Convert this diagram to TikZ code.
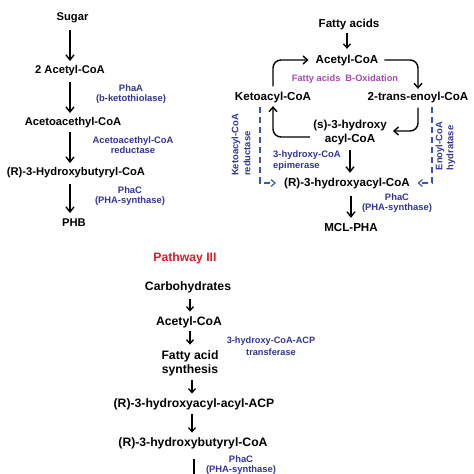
\documentclass[tikz,border=0pt]{standalone}
\usepackage{fontspec}
\setmainfont{Liberation Sans}
\usetikzlibrary{arrows.meta}
\definecolor{lblue}{RGB}{52,52,150}
\definecolor{dblue}{RGB}{60,85,170}
\definecolor{mag}{RGB}{165,75,175}
\definecolor{pred}{RGB}{215,30,40}
\tikzset{
  lt/.style={font=\fontsize{11.2}{13}\selectfont\bfseries, inner sep=1pt, text height=8.2pt, text depth=2.3pt},
  rt/.style={font=\fontsize{11.6}{14}\selectfont\bfseries, inner sep=1pt, text height=8.5pt, text depth=2.4pt},
  rtm/.style={font=\fontsize{11.6}{14}\selectfont\bfseries, inner sep=1pt, align=center},
  bt/.style={font=\fontsize{12.2}{14}\selectfont\bfseries, inner sep=1pt, text height=8.9pt, text depth=2.6pt},
  btm/.style={font=\fontsize{12.2}{14}\selectfont\bfseries, inner sep=1pt, align=center},
  enz/.style={font=\fontsize{9.4}{10}\selectfont\bfseries, text=lblue, inner sep=1pt, align=center},
  blk/.style={line width=1.4pt, -{Straight Barb[length=5pt,width=8pt]}, shorten <=4.5pt, shorten >=3.5pt},
  sblk/.style={line width=1.3pt, -{Straight Barb[length=4pt,width=7pt]}, shorten <=3.5pt, shorten >=3.5pt},
  cyc/.style={line width=1.4pt, rounded corners=8pt, -{Straight Barb[length=4.5pt,width=8pt]}},
  dsh/.style={line width=1.2pt, color=dblue, dash pattern=on 6pt off 4pt, -{Straight Barb[length=4pt,width=7pt]}}
}
\begin{document}
\begin{tikzpicture}[x=1pt,y=-1pt]
\useasboundingbox (0,0) rectangle (474,474);
% ---------- left pathway ----------
\coordinate (lc) at (70,0);
\node[lt] (sugar) at (72.5,18) {Sugar};
\node[lt] (ac2) at (70,71) {2 Acetyl-CoA};
\node[lt] (aca) at (73,123) {Acetoacethyl-CoA};
\node[lt] (hb) at (76,173) {(R)-3-Hydroxybutyryl-CoA};
\node[lt] (phb) at (74,224) {PHB};
\draw[blk, shorten <=6pt] (sugar.south -| lc) -- (ac2.north -| lc);
\draw[blk] (ac2.south -| lc) -- (aca.north -| lc);
\draw[blk, shorten <=2.5pt] (aca.south -| lc) -- (hb.north -| lc);
\draw[blk, shorten >=4.5pt] (hb.south -| lc) -- (phb.north -| lc);
\node[enz] (e1) at (131,94) {PhaA\\(b-ketothiolase)};
\node[enz] (e2) at (133,145) {Acetoacethyl-CoA\\reductase};
\node[enz] (e3) at (130,196.5) {PhaC\\(PHA-synthase)};
% ---------- right pathway ----------
\node[rt] (fa) at (349,24) {Fatty acids};
\node[rt] (acet) at (347,60) {Acetyl-CoA};
\node[rt] (ket) at (273,97) {Ketoacyl-CoA};
\node[rt] (enoyl) at (418,97) {2-trans-enoyl-CoA};
\node[rtm] (shyd) at (350,132) {(s)-3-hydroxy\\acyl-CoA};
\node[rt] (rhyd) at (347,183) {(R)-3-hydroxyacyl-CoA};
\node[rt] (mcl) at (351,228) {MCL-PHA};
\node[font=\fontsize{9.3}{10}\selectfont\bfseries, text=mag, inner sep=1pt] (box) at (345,79) {Fatty acids\hspace{5pt}B-Oxidation};
\draw[sblk, shorten <=2.5pt, shorten >=4.5pt] (acet.north |- fa.south) -- (acet.north);
\draw[cyc, shorten <=4pt, shorten >=6pt] (ket.north) |- (acet.west);
\draw[cyc, shorten <=5pt, shorten >=1.5pt] (acet.east) -| (enoyl.north);
\draw[cyc, shorten <=4pt, shorten >=5pt] (enoyl.south) |- ([yshift=1pt]shyd.east);
\draw[cyc, shorten <=2pt, shorten >=2.5pt] ([yshift=-5pt]shyd.west) -| (ket.south);
\draw[blk] (shyd.south) -- (shyd.south |- rhyd.north);
\draw[blk, shorten <=6pt] (rhyd.south -| mcl) -- (mcl.north);
\draw[dsh, shorten <=3.5pt, shorten >=7pt] ([xshift=-13pt]ket.south) |- (rhyd.west);
\draw[dsh, shorten <=3.5pt, shorten >=6.5pt] ([xshift=14pt]enoyl.south) |- (rhyd.east);
\node[enz, align=left, anchor=west, font=\fontsize{9.4}{11}\selectfont\bfseries] (epi) at (272,160.5) {3-hydroxy-CoA\\epimerase};
\node[enz] (e4) at (397,203) {PhaC\\(PHA-synthase)};
\node[enz, rotate=90, align=left, font=\fontsize{9.4}{12}\selectfont\bfseries] (kr) at (241,145) {Ketoacyl-CoA\\reductase};
\node[enz, rotate=90, align=left, font=\fontsize{9.4}{11}\selectfont\bfseries] (eh) at (445.5,146) {Enoyl-CoA\\hydratase};
% ---------- pathway III ----------
\coordinate (bc) at (190,0);
\coordinate (bc2) at (192,0);
\node[font=\fontsize{12.2}{14}\selectfont\bfseries, text=pred] (pw) at (185,258) {Pathway III};
\node[bt] (carb) at (188,287) {Carbohydrates};
\node[bt] (ac3) at (189,322) {Acetyl-CoA};
\node[btm] (fas) at (190,363) {Fatty acid\\synthesis};
\node[bt] (rha) at (194,404) {(R)-3-hydroxyacyl-acyl-ACP};
\node[bt] (rhb) at (193,443) {(R)-3-hydroxybutyryl-CoA};
\coordinate (pe) at (194,492);
\draw[sblk, shorten <=5pt] (carb.south -| bc) -- (ac3.north -| bc);
\draw[sblk, shorten <=2.5pt, shorten >=4.5pt] (ac3.south -| bc) -- (fas.north -| bc);
\draw[sblk] (fas.south -| bc2) -- (rha.north -| bc2);
\draw[sblk] (rha.south -| bc2) -- (rhb.north -| bc2);
\draw[sblk, shorten <=9pt] (rhb.south -| pe) -- (pe);
\node[enz, font=\fontsize{9.2}{12}\selectfont\bfseries] (e5) at (271,346) {3-hydroxy-CoA-ACP\\transferase};
\node[enz] (e6) at (241,465) {PhaC\\(PHA-synthase)};
\end{tikzpicture}
\end{document}
